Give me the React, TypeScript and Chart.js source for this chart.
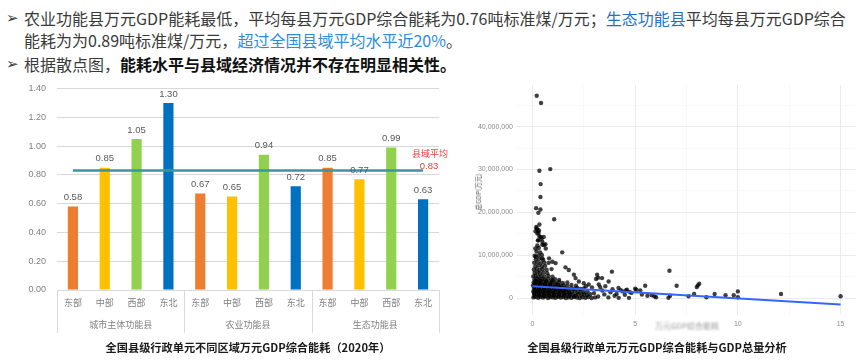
import React, { useEffect, useRef } from 'react';
import { Chart, registerables } from 'chart.js';

Chart.register(...registerables);

// ---------- Bar chart data ----------
const regions = ['东部', '中部', '西部', '东北'];
const groups = ['城市主体功能县', '农业功能县', '生态功能县'];
const barLabels = groups.flatMap(() => regions);
const energyValues = [0.58, 0.85, 1.05, 1.30, 0.67, 0.65, 0.94, 0.72, 0.85, 0.77, 0.99, 0.63];
const countyAverage = 0.83;
const barTicks = [0, 0.2, 0.4, 0.6, 0.8, 1.0, 1.2, 1.4];
const regionColors = ['#ED7D31', '#FFC000', '#92D050', '#0070C0'];

// ---------- Scatter data: [energy per 10k GDP, total GDP in millions of 10k yuan] ----------
const scatterPoints: [number, number][] = [
  // tall column near zero
  [0.21, 47.2], [0.42, 45.5], [0.87, 30.1], [0.34, 29.7], [0.40, 26.6], [0.39, 23.6], [0.18, 21.0],
  [0.39, 20.7], [0.29, 19.9], [1.06, 18.4], [0.34, 17.2], [0.15, 15.6], [0.25, 15.9], [0.30, 15.2],
  [0.34, 14.4], [0.55, 14.3], [0.27, 13.5], [0.63, 12.6], [0.20, 16.3], [0.45, 13.9], [0.19, 16.6],
  [0.32, 15.8], [0.24, 15.1], [0.40, 14.3], [0.29, 13.5], [0.48, 13.2], [0.56, 12.4], [0.65, 11.6],
  [1.45, 10.7], [0.16, 9.7], [0.48, 9.3], [0.81, 9.3], [0.97, 8.5], [1.13, 8.2], [1.61, 7.2],
  [1.77, 6.6], [2.02, 5.5], [3.15, 5.5], [3.39, 4.7], [3.87, 6.2], [3.71, 3.9], [3.23, 3.2],
  [3.55, 2.8], [4.19, 2.4], [2.26, 3.9], [2.50, 3.5], [2.74, 3.2], [2.10, 4.7], [3.10, 4.5],
  [3.20, 4.8], [2.60, 2.8], [2.90, 2.5], [3.30, 2.6],
  // dense band rows
  [0.05, 0.2], [0.16, 0.35], [0.28, 0.1], [0.40, 0.3], [0.52, 0.15], [0.64, 0.4], [0.76, 0.05],
  [0.88, 0.3], [1.00, 0.2], [1.13, 0.1], [1.25, 0.35], [1.38, 0.15], [1.50, 0.3], [1.63, 0.05],
  [1.76, 0.25], [1.90, 0.1], [2.03, 0.3], [2.17, 0.15], [2.30, 0.05], [2.44, 0.25], [2.58, 0.1],
  [2.72, 0.3], [2.88, 0.05], [3.05, 0.2],
  [0.10, 0.55], [0.33, 0.6], [0.57, 0.5], [0.81, 0.6], [1.05, 0.55], [1.30, 0.5], [1.55, 0.6],
  [1.80, 0.5], [2.05, 0.55],
  [0.10, 0.9], [0.22, 1.0], [0.34, 0.8], [0.46, 0.95], [0.58, 0.85], [0.70, 1.0], [0.82, 0.8],
  [0.94, 0.95], [1.06, 0.9], [1.19, 0.75], [1.31, 1.0], [1.44, 0.85], [1.57, 0.95], [1.70, 0.8],
  [1.84, 1.0], [1.97, 0.85], [2.11, 0.7], [2.24, 0.95], [2.38, 0.8], [2.52, 0.9], [2.66, 0.75],
  [2.82, 0.95],
  [0.08, 1.25], [0.31, 1.3], [0.55, 1.2], [0.79, 1.3], [1.03, 1.25], [1.27, 1.2], [1.52, 1.3],
  [1.78, 1.2],
  [0.04, 1.6], [0.15, 1.7], [0.27, 1.5], [0.39, 1.65], [0.51, 1.55], [0.63, 1.75], [0.75, 1.5],
  [0.87, 1.6], [0.99, 1.7], [1.11, 1.5], [1.24, 1.65], [1.37, 1.55], [1.50, 1.7], [1.64, 1.45],
  [1.78, 1.6], [1.92, 1.5], [2.06, 1.7], [2.20, 1.45], [2.35, 1.6], [2.50, 1.4], [2.68, 1.55],
  [0.12, 1.95], [0.35, 2.0], [0.59, 1.9], [0.83, 2.0], [1.08, 1.95], [1.34, 1.9], [1.60, 2.0],
  [0.08, 2.3], [0.20, 2.4], [0.32, 2.2], [0.44, 2.35], [0.56, 2.25], [0.68, 2.45], [0.80, 2.2],
  [0.92, 2.35], [1.04, 2.3], [1.17, 2.15], [1.30, 2.4], [1.43, 2.25], [1.57, 2.35], [1.72, 2.1],
  [1.87, 2.3], [2.02, 2.2], [2.18, 2.4], [2.34, 2.15], [2.50, 2.3],
  [0.09, 2.65], [0.31, 2.7], [0.55, 2.6], [0.79, 2.7], [1.05, 2.6], [1.32, 2.7],
  [0.03, 3.0], [0.14, 3.1], [0.25, 2.9], [0.37, 3.05], [0.49, 2.95], [0.61, 3.15], [0.73, 2.9],
  [0.86, 3.05], [0.98, 3.0], [1.11, 2.85], [1.24, 3.1], [1.38, 2.9], [1.53, 3.0], [1.70, 2.85],
  [1.90, 3.1], [2.12, 2.9],
  [0.12, 3.35], [0.36, 3.4], [0.60, 3.3], [0.88, 3.4], [1.18, 3.3],
  [0.06, 3.7], [0.18, 3.8], [0.30, 3.6], [0.42, 3.75], [0.55, 3.65], [0.68, 3.85], [0.82, 3.6],
  [0.97, 3.75], [1.12, 3.65], [1.30, 3.8], [1.48, 3.55], [1.70, 3.7],
  [0.15, 4.05], [0.40, 4.1], [0.67, 4.0], [0.98, 4.1],
  [0.10, 4.4], [0.22, 4.5], [0.34, 4.3], [0.47, 4.45], [0.60, 4.35], [0.75, 4.5], [0.92, 4.3],
  [1.10, 4.45], [1.30, 4.25],
  [0.04, 5.1], [0.16, 5.2], [0.29, 5.0], [0.43, 5.15], [0.58, 5.05], [0.78, 5.2], [0.98, 5.0],
  [0.11, 5.9], [0.24, 6.0], [0.37, 5.8], [0.53, 5.95], [0.72, 5.85],
  [0.07, 6.7], [0.21, 6.8], [0.35, 6.6], [0.50, 6.75], [0.69, 6.65], [0.93, 6.8],
  [0.14, 7.5], [0.29, 7.6], [0.46, 7.4], [0.62, 7.55],
  [0.09, 8.3], [0.25, 8.4], [0.41, 8.2], [0.58, 8.35], [0.79, 8.25],
  [0.17, 9.1], [0.34, 9.2], [0.52, 9.0],
  [0.11, 9.9], [0.29, 10.0], [0.46, 10.1],
  [0.20, 10.9], [0.38, 10.7], [0.14, 11.6], [0.31, 11.7], [0.24, 12.3], [0.48, 12.5],
  // tail
  [3.0, 1.2], [3.2, 0.4], [3.4, 1.8], [3.5, 0.9], [3.7, 0.2], [3.8, 1.4], [3.9, 2.1], [4.0, 0.6],
  [4.1, 1.0], [4.2, 0.1], [4.3, 1.9], [4.4, 1.6], [4.5, 0.8], [4.55, 1.8], [4.6, 2.0], [4.7, 0.1],
  [4.73, 1.5], [4.82, 1.25], [5.0, 2.2], [5.06, 2.0], [5.25, 1.85], [5.33, 0.85], [5.49, 2.9],
  [5.6, 0.6], [5.81, 0.7], [5.94, 0.45], [6.02, 0.23], [6.62, 0.1], [6.67, 6.4], [6.7, 0.6],
  [7.02, 2.9], [7.6, 0.46], [7.87, 1.0], [8.0, 2.6], [8.05, 3.0], [8.12, 3.4], [8.47, 0.23],
  [8.87, 1.0], [9.4, 0.7], [9.8, 0.7], [10.0, 1.6], [10.0, 0.23], [12.1, 1.0], [15.0, 0.46],
];
const trendLine: [number, number][] = [[0, 2.8], [15, -1.45]];
const energyTicks = [0, 2.5, 5, 7.5, 10, 12.5, 15];
const gdpTicks = [0, 5e6, 10e6, 15e6, 20e6, 25e6, 30e6, 35e6, 40e6, 45e6];

const CJK = '"Noto Sans CJK SC", "Noto Sans", sans-serif';
const LAT = '"Liberation Sans", Arial, sans-serif';

function BarChart() {
  const ref = useRef<HTMLCanvasElement>(null);
  useEffect(() => {
    const decor = {
      id: 'barDecor',
      afterDraw(chart: any) {
        const { ctx, chartArea, scales } = chart;
        const x = scales.x, y = scales.y;
        const meta = chart.getDatasetMeta(1);
        ctx.save();
        ctx.textAlign = 'center';
        ctx.textBaseline = 'middle';
        ctx.fillStyle = '#595959';
        ctx.font = `9.5px ${LAT}`;
        meta.data.forEach((el: any, i: number) => {
          ctx.fillText(energyValues[i].toFixed(2), el.x, el.y - 9);
        });
        const half = (x.getPixelForValue(1) - x.getPixelForValue(0)) / 2;
        ctx.strokeStyle = '#d9d9d9';
        ctx.lineWidth = 1;
        for (let g = 0; g <= groups.length; g++) {
          const idx = Math.min(g * regions.length, barLabels.length - 1);
          const px = Math.round(g * regions.length >= barLabels.length ? x.getPixelForValue(idx) + half : x.getPixelForValue(idx) - half) + 0.5;
          ctx.beginPath();
          ctx.moveTo(px, chartArea.bottom);
          ctx.lineTo(px, chartArea.bottom + 43);
          ctx.stroke();
        }
        ctx.fillStyle = '#7f7f7f';
        ctx.font = `9px ${CJK}`;
        groups.forEach((g, gi) => {
          const cx = (x.getPixelForValue(gi * 4) + x.getPixelForValue(gi * 4 + 3)) / 2;
          ctx.fillText(g, cx, chartArea.bottom + 35);
        });
        const lastX = x.getPixelForValue(barLabels.length - 1);
        const ay = y.getPixelForValue(countyAverage);
        ctx.fillStyle = '#F23A3A';
        ctx.font = `9px ${CJK}`;
        ctx.fillText('县域平均', lastX + 7, ay - 17);
        ctx.font = `9.5px ${LAT}`;
        ctx.fillText(countyAverage.toFixed(2), lastX + 6, ay - 4);
        ctx.restore();
      },
    };
    const chart = new Chart(ref.current!, {
      type: 'bar',
      data: {
        labels: barLabels,
        datasets: [
          {
            type: 'line',
            data: barLabels.map(() => countyAverage),
            borderColor: '#3A95A2',
            borderWidth: 2.5,
            pointRadius: 0,
            order: 0,
          } as any,
          {
            type: 'bar',
            data: energyValues,
            backgroundColor: energyValues.map((_, i) => regionColors[i % regionColors.length]),
            barPercentage: 0.32,
            categoryPercentage: 1,
            order: 1,
          },
        ],
      },
      options: {
        responsive: false,
        animation: false,
        devicePixelRatio: 1,
        layout: { padding: { top: 10.5, right: 11, left: 0, bottom: 0 } },
        plugins: { legend: { display: false }, tooltip: { enabled: false } },
        scales: {
          x: {
            grid: { display: false, drawTicks: false },
            border: { display: true, color: '#d9d9d9' },
            ticks: { color: '#7f7f7f', font: { family: CJK, size: 9 }, padding: 7, maxRotation: 0 },
            afterFit: (s: any) => { s.height = 50; },
          },
          y: {
            min: 0,
            max: 1.4,
            afterBuildTicks: (s: any) => { s.ticks = barTicks.map((v) => ({ value: v })); },
            grid: { color: '#d9d9d9', drawTicks: false },
            border: { display: false },
            ticks: {
              color: '#7f7f7f',
              font: { family: LAT, size: 9 },
              padding: 11,
              callback: (v: any) => Number(v).toFixed(2),
            },
            afterFit: (s: any) => { s.width = 57; s.paddingTop = 0; s.paddingBottom = 0; },
          },
        },
      },
      plugins: [decor],
    });
    return () => chart.destroy();
  }, []);
  return <canvas ref={ref} width={450} height={262} style={{ position: 'absolute', left: 0, top: 78 }} />;
}

function ScatterChart() {
  const ref = useRef<HTMLCanvasElement>(null);
  useEffect(() => {
    const chart = new Chart(ref.current!, {
      type: 'scatter',
      data: {
        datasets: [
          {
            data: trendLine.map(([x, y]) => ({ x, y: y * 1e6 })),
            showLine: true,
            borderColor: '#3366FF',
            borderWidth: 2,
            pointRadius: 0,
            order: 0,
          },
          {
            data: scatterPoints.map(([x, y]) => ({ x, y: y * 1e6 })),
            pointRadius: 2.2,
            backgroundColor: 'rgba(0,0,0,0.75)',
            borderWidth: 0,
            order: 1,
          },
        ],
      },
      options: {
        responsive: false,
        animation: false,
        devicePixelRatio: 1,
        layout: { padding: { top: 7, right: 2, left: 0, bottom: 0 } },
        plugins: { legend: { display: false }, tooltip: { enabled: false } },
        scales: {
          x: {
            type: 'linear',
            min: -0.75,
            max: 15.75,
            afterBuildTicks: (s: any) => { s.ticks = energyTicks.map((v) => ({ value: v })); },
            grid: {
              drawTicks: false,
              color: (c: any) => (c.tick && c.tick.value % 5 === 0 ? '#ebebeb' : '#f5f5f5'),
              lineWidth: (c: any) => (c.tick && c.tick.value % 5 === 0 ? 1 : 0.6),
            },
            border: { display: false },
            ticks: {
              autoSkip: false,
              color: '#8c8c8c',
              font: { family: LAT, size: 7 },
              padding: 5,
              callback: (v: any) => (Number(v) % 5 === 0 ? String(v) : ''),
            },
            afterFit: (s: any) => { s.height = 25; s.paddingLeft = 0; s.paddingRight = 0; },
          },
          y: {
            min: -3.9e6,
            max: 49.7e6,
            afterBuildTicks: (s: any) => { s.ticks = gdpTicks.map((v) => ({ value: v })); },
            grid: {
              drawTicks: false,
              color: (c: any) => (c.tick && c.tick.value % 1e7 === 0 ? '#ebebeb' : '#f5f5f5'),
              lineWidth: (c: any) => (c.tick && c.tick.value % 1e7 === 0 ? 1 : 0.6),
            },
            border: { display: false },
            ticks: {
              autoSkip: false,
              color: '#8c8c8c',
              font: { family: LAT, size: 7 },
              padding: 4,
              callback: (v: any) => (Number(v) % 1e7 === 0 ? Number(v).toLocaleString('en-US') : ''),
            },
            afterFit: (s: any) => { s.width = 57; s.paddingTop = 0; s.paddingBottom = 0; },
          },
        },
      },
    });
    return () => chart.destroy();
  }, []);
  return <canvas ref={ref} width={400} height={262} style={{ position: 'absolute', left: 460, top: 78 }} />;
}

export default function App() {
  const line: React.CSSProperties = {
    position: 'absolute',
    left: 24,
    fontSize: 16,
    lineHeight: '22px',
    whiteSpace: 'nowrap',
    color: '#3a3a3a',
  };
  const bullet: React.CSSProperties = {
    position: 'absolute',
    left: 6,
    fontSize: 15,
    lineHeight: '22px',
    fontFamily: '"DejaVu Sans", sans-serif',
    color: '#3a3a3a',
  };
  const title: React.CSSProperties = {
    position: 'absolute',
    top: 339,
    fontSize: 11.2,
    lineHeight: '16px',
    fontWeight: 700,
    textAlign: 'center',
    whiteSpace: 'nowrap',
    color: '#1a1a1a',
  };
  return (
    <div
      style={{
        position: 'fixed',
        left: 0,
        top: 0,
        width: 856,
        height: 362,
        overflow: 'hidden',
        background: '#fff',
        fontFamily: CJK,
      }}
    >
      <div style={{ ...bullet, top: 7 }}>➢</div>
      <div style={{ ...line, top: 7 }}>
        农业功能县万元GDP能耗最低，平均每县万元GDP综合能耗为0.76吨标准煤/万元；
        <span style={{ color: '#1F72C6' }}>生态功能县</span>平均每县万元GDP综合
      </div>
      <div style={{ ...line, top: 29 }}>
        能耗为为0.89吨标准煤/万元，<span style={{ color: '#2E8CDD' }}>超过全国县域平均水平近20%</span>。
      </div>
      <div style={{ ...bullet, top: 53 }}>➢</div>
      <div style={{ ...line, top: 53 }}>
        根据散点图，<span style={{ fontWeight: 700, color: '#111' }}>能耗水平与县域经济情况并不存在明显相关性。</span>
      </div>

      <BarChart />
      <ScatterChart />

      <div
        style={{
          position: 'absolute',
          left: 478,
          top: 192,
          transform: 'translate(-50%, -50%) rotate(-90deg)',
          fontSize: 6.5,
          lineHeight: '8px',
          color: '#555',
          whiteSpace: 'nowrap',
        }}
      >
        总GDP(万元)
      </div>
      <div
        style={{
          position: 'absolute',
          left: 651,
          top: 321,
          width: 72,
          textAlign: 'center',
          fontSize: 8,
          lineHeight: '10px',
          color: '#9a9a9a',
          filter: 'blur(1.2px)',
          whiteSpace: 'nowrap',
        }}
      >
        万元GDP综合能耗
      </div>

      <div style={{ ...title, left: 0, width: 496 }}>全国县级行政单元不同区域万元GDP综合能耗（2020年）</div>
      <div style={{ ...title, left: 457, width: 400 }}>全国县级行政单元万元GDP综合能耗与GDP总量分析</div>
    </div>
  );
}
